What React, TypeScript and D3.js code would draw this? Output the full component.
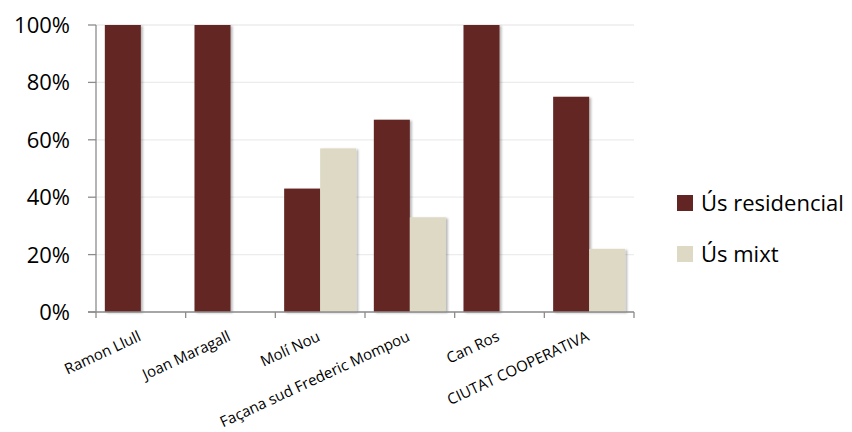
import React from "react";
import * as d3 from "d3";

const categories = [
  "Ramon Llull",
  "Joan Maragall",
  "Molí Nou",
  "Façana sud Frederic Mompou",
  "Can Ros",
  "CIUTAT COOPERATIVA",
];
const seriesNames = ["Ús residencial", "Ús mixt"];
const residencial = [100, 100, 43, 67, 100, 75];
const mixt = [0, 0, 57, 33, 0, 22];
const yTicks = [0, 20, 40, 60, 80, 100];
const colors = ["#632523", "#DDD9C4"];

const W = 852;
const H = 432;
const plotLeft = 96;
const plotRight = 634;
const plotTop = 25;
const plotBottom = 312;
const FONT = "'Open Sans', 'Noto Sans', sans-serif";

export default function App() {
  const x0 = d3.scaleBand<string>().domain(categories).range([plotLeft, plotRight]).padding(0);
  const x1 = d3
    .scaleBand<string>()
    .domain(seriesNames)
    .range([0, x0.bandwidth()])
    .paddingInner(0)
    .paddingOuter(0.245);
  const y = d3.scaleLinear().domain([0, 100]).range([plotBottom, plotTop]);
  const seriesValues = [residencial, mixt];

  return (
    <svg
      width={W}
      height={H}
      style={{ position: "absolute", left: 0, top: 0, background: "#fff" }}
      fontFamily={FONT}
    >
      <defs>
        <filter id="shadow" x="-20%" y="-5%" width="150%" height="115%">
          <feDropShadow dx="2" dy="1" stdDeviation="1.2" floodColor="#000" floodOpacity="0.28" />
        </filter>
      </defs>
      {/* gridlines */}
      {yTicks.map((t) => (
        <line
          key={"g" + t}
          x1={plotLeft}
          x2={plotRight}
          y1={y(t)}
          y2={y(t)}
          stroke="#ececec"
          strokeWidth={1.3}
        />
      ))}
      {/* bars */}
      {categories.map((c, i) => (
        <g key={c}>
          {seriesNames.map((s, j) => {
            const v = seriesValues[j][i];
            if (!v) return null;
            return (
              <rect
                key={s}
                x={(x0(c) as number) + (x1(s) as number)}
                y={y(v)}
                width={x1.bandwidth()}
                height={plotBottom - y(v)}
                fill={colors[j]}
                filter="url(#shadow)"
              />
            );
          })}
        </g>
      ))}
      {/* axes */}
      <line x1={plotLeft} x2={plotLeft} y1={plotTop} y2={plotBottom} stroke="#8c8c8c" strokeWidth={1.3} />
      <line x1={plotLeft - 8} x2={plotRight} y1={plotBottom} y2={plotBottom} stroke="#8c8c8c" strokeWidth={1.3} />
      {yTicks.map((t) => (
        <line
          key={"yt" + t}
          x1={plotLeft - 8}
          x2={plotLeft}
          y1={y(t)}
          y2={y(t)}
          stroke="#8c8c8c"
          strokeWidth={1.3}
        />
      ))}
      {[...categories.map((c) => x0(c) as number), plotRight].map((xv, i) => (
        <line key={"xt" + i} x1={xv} x2={xv} y1={plotBottom} y2={plotBottom + 6} stroke="#8c8c8c" strokeWidth={1.3} />
      ))}
      {/* y tick labels */}
      {yTicks.map((t) => (
        <text
          key={"yl" + t}
          x={70}
          y={y(t)}
          dy="0.36em"
          textAnchor="end"
          fontSize={22}
          fill="#000"
        >
          {t + "%"}
        </text>
      ))}
      {/* x labels */}
      {categories.map((c) => {
        const cx = (x0(c) as number) + x0.bandwidth() / 2 + 1;
        return (
          <text
            key={"xl" + c}
            transform={`translate(${cx},340) rotate(-25)`}
            textAnchor="end"
            fontSize={15}
            fill="#000"
          >
            {c}
          </text>
        );
      })}
      {/* legend */}
      {seriesNames.map((s, j) => (
        <g key={"lg" + s} transform={`translate(677,${195 + j * 51})`}>
          <rect x={0} y={0} width={16} height={16} fill={colors[j]} />
          <text x={24} y={8} dy="0.36em" fontSize={22} fill="#000">
            {s}
          </text>
        </g>
      ))}
    </svg>
  );
}
